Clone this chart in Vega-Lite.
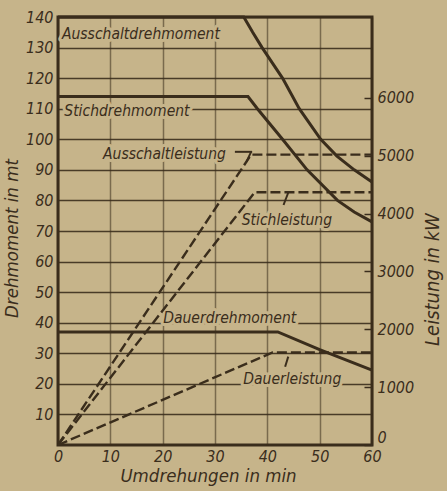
{
  "$schema": "https://vega.github.io/schema/vega-lite/v6.json",
  "width": 314,
  "height": 428,
  "autosize": {"type": "none"},
  "padding": {"left": 58, "top": 17, "right": 75, "bottom": 46},
  "background": "#c6b48a",
  "config": {
    "view": {"stroke": "#3a2d1c", "strokeWidth": 3},
    "axis": {
      "labelFont": "DejaVu Sans Condensed",
      "labelFontStyle": "italic",
      "labelFontSize": 16,
      "labelColor": "#3a2d1c",
      "titleFont": "DejaVu Sans Condensed",
      "titleFontStyle": "italic",
      "titleFontWeight": "normal",
      "titleFontSize": 18.5,
      "titleColor": "#3a2d1c",
      "domain": false,
      "gridColor": "#3a2d1c",
      "tickColor": "#3a2d1c"
    }
  },
  "datasets": {
    "torque": [
      {"s": "Ausschaltdrehmoment", "n": 0, "mt": 140},
      {"s": "Ausschaltdrehmoment", "n": 35.5, "mt": 140},
      {"s": "Ausschaltdrehmoment", "n": 37.2, "mt": 135},
      {"s": "Ausschaltdrehmoment", "n": 39, "mt": 130},
      {"s": "Ausschaltdrehmoment", "n": 42.9, "mt": 120},
      {"s": "Ausschaltdrehmoment", "n": 46.1, "mt": 110},
      {"s": "Ausschaltdrehmoment", "n": 50.2, "mt": 100},
      {"s": "Ausschaltdrehmoment", "n": 53.3, "mt": 94.5},
      {"s": "Ausschaltdrehmoment", "n": 56.6, "mt": 90},
      {"s": "Ausschaltdrehmoment", "n": 60, "mt": 86},
      {"s": "Stichdrehmoment", "n": 0, "mt": 114},
      {"s": "Stichdrehmoment", "n": 36.3, "mt": 114},
      {"s": "Stichdrehmoment", "n": 38.1, "mt": 110},
      {"s": "Stichdrehmoment", "n": 42.9, "mt": 100},
      {"s": "Stichdrehmoment", "n": 47.6, "mt": 90},
      {"s": "Stichdrehmoment", "n": 53.4, "mt": 80},
      {"s": "Stichdrehmoment", "n": 56.6, "mt": 76.2},
      {"s": "Stichdrehmoment", "n": 60, "mt": 73},
      {"s": "Dauerdrehmoment", "n": 0, "mt": 37},
      {"s": "Dauerdrehmoment", "n": 42, "mt": 37},
      {"s": "Dauerdrehmoment", "n": 50, "mt": 31.2},
      {"s": "Dauerdrehmoment", "n": 60, "mt": 24.5}
    ],
    "power": [
      {"s": "Ausschaltleistung", "n": 0, "kW": 0},
      {"s": "Ausschaltleistung", "n": 36.9, "kW": 5020},
      {"s": "Ausschaltleistung", "n": 60, "kW": 5020},
      {"s": "Stichleistung", "n": 0, "kW": 0},
      {"s": "Stichleistung", "n": 37.6, "kW": 4370},
      {"s": "Stichleistung", "n": 60, "kW": 4370},
      {"s": "Dauerleistung", "n": 0, "kW": 0},
      {"s": "Dauerleistung", "n": 41, "kW": 1600},
      {"s": "Dauerleistung", "n": 60, "kW": 1600}
    ],
    "leaders": [
      {"n": 33.8, "mt": 95.9, "n2": 37.1, "mt2": 95.9},
      {"n": 36.9, "mt": 95.9, "n2": 36.0, "mt2": 92.6},
      {"n": 44.0, "mt": 82.6, "n2": 43.1, "mt2": 78.5},
      {"n": 44.0, "mt": 28.9, "n2": 43.4, "mt2": 25.6}
    ],
    "labels": [
      {"t": "Ausschaltdrehmoment", "n": 0.76, "mt": 132.8},
      {"t": "Stichdrehmoment", "n": 1.2, "mt": 107.6},
      {"t": "Ausschaltleistung", "n": 8.6, "mt": 93.6},
      {"t": "Stichleistung", "n": 35.1, "mt": 72.0},
      {"t": "Dauerdrehmoment", "n": 20.1, "mt": 39.9},
      {"t": "Dauerleistung", "n": 35.4, "mt": 20.1}
    ]
  },
  "layer": [
    {
      "data": {"name": "labels"},
      "mark": {"type": "text", "align": "left", "baseline": "alphabetic", "font": "DejaVu Sans Condensed", "fontStyle": "italic", "fontSize": 15.5, "fill": "#c6b48a", "stroke": "#c6b48a", "strokeWidth": 6, "strokeJoin": "round"},
      "encoding": {
        "x": {"field": "n", "type": "quantitative", "scale": {"domain": [0, 60], "nice": false},
          "axis": {"values": [0, 10, 20, 30, 40, 50, 60], "title": "Umdrehungen in min", "grid": true, "gridOpacity": 0.55, "gridWidth": 1.5, "ticks": false, "labelPadding": 3, "labelFlush": false, "titlePadding": 2, "titleX": 150}},
        "y": {"field": "mt", "type": "quantitative", "scale": {"domain": [0, 140], "nice": false}, "axis": null},
        "text": {"field": "t"}
      }
    },
    {
      "data": {"name": "torque"},
      "mark": {"type": "line", "color": "#3a2d1c", "strokeWidth": 3, "strokeCap": "butt"},
      "encoding": {
        "x": {"field": "n", "type": "quantitative", "scale": {"domain": [0, 60], "nice": false}},
        "y": {"field": "mt", "type": "quantitative", "scale": {"domain": [0, 140], "nice": false},
          "axis": {"orient": "left", "values": [10, 20, 30, 40, 50, 60, 70, 80, 90, 100, 110, 120, 130, 140], "title": "Drehmoment in mt", "grid": true, "gridWidth": 1.4, "gridOpacity": 0.9, "ticks": false, "labelPadding": 5, "titlePadding": 4, "titleY": 221}},
        "detail": {"field": "s"}
      }
    },
    {
      "data": {"name": "power"},
      "mark": {"type": "line", "color": "#3a2d1c", "strokeWidth": 2.4, "strokeDash": [10, 4]},
      "encoding": {
        "x": {"field": "n", "type": "quantitative", "scale": {"domain": [0, 60], "nice": false}},
        "y": {"field": "kW", "type": "quantitative", "scale": {"domain": [0, 7400], "nice": false},
          "axis": {"orient": "right", "values": [0, 1000, 2000, 3000, 4000, 5000, 6000], "format": "d", "title": "Leistung in kW", "titleFontSize": 20, "titleAngle": -90, "titleBaseline": "middle", "titleX": 60, "titleY": 262, "grid": false, "tickSize": -8, "tickWidth": 1.5, "labelPadding": 13, "labelFlush": true}},
        "detail": {"field": "s"}
      }
    },
    {
      "data": {"name": "leaders"},
      "mark": {"type": "rule", "color": "#3a2d1c", "strokeWidth": 2},
      "encoding": {
        "x": {"field": "n", "type": "quantitative", "scale": {"domain": [0, 60], "nice": false}},
        "x2": {"field": "n2"},
        "y": {"field": "mt", "type": "quantitative", "scale": {"domain": [0, 140], "nice": false}, "axis": null},
        "y2": {"field": "mt2"}
      }
    },
    {
      "data": {"name": "labels"},
      "mark": {"type": "text", "align": "left", "baseline": "alphabetic", "font": "DejaVu Sans Condensed", "fontStyle": "italic", "fontSize": 15.5, "color": "#3a2d1c"},
      "encoding": {
        "x": {"field": "n", "type": "quantitative", "scale": {"domain": [0, 60], "nice": false}},
        "y": {"field": "mt", "type": "quantitative", "scale": {"domain": [0, 140], "nice": false}, "axis": null},
        "text": {"field": "t"}
      }
    }
  ],
  "resolve": {"scale": {"y": "independent"}}
}
